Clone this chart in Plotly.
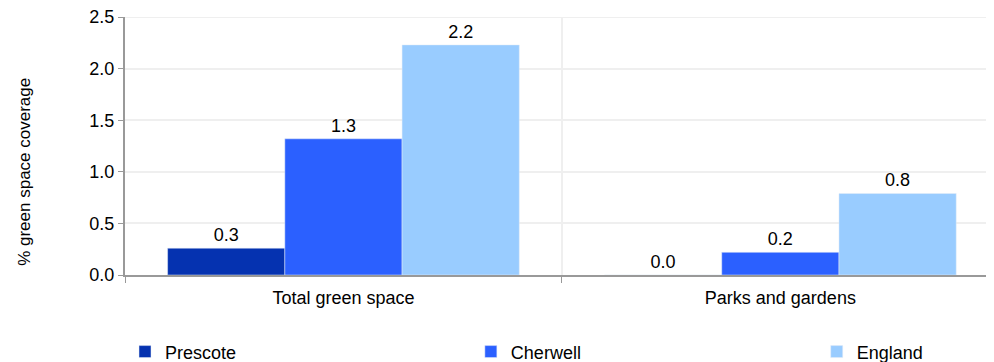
import plotly.graph_objects as go

categories = ["Total green space", "Parks and gardens"]
series_names = ["Prescote", "Cherwell", "England"]
prescote = [0.26, 0.0]
cherwell = [1.32, 0.22]
england = [2.23, 0.79]
colors = ["#0532B0", "#2B60FF", "#99CCFF"]
y_ticks = [0.0, 0.5, 1.0, 1.5, 2.0, 2.5]
y_title = "% green space coverage"

FONT = "Liberation Sans, Arial, sans-serif"
FS = 18

legend_names = ["legend", "legend2", "legend3"]
legend_x = [0.0, 0.398, 0.796]

fig = go.Figure()
for name, vals, col, lg in zip(series_names, [prescote, cherwell, england], colors, legend_names):
    fig.add_trace(go.Bar(
        x=categories, y=vals, name=name, marker_color=col,
        texttemplate="%{y:.1f}", textposition="outside",
        textfont=dict(color="#000000", size=FS, family=FONT),
        cliponaxis=False, legend=lg,
    ))

leg_common = dict(orientation="h", y=-0.298, yanchor="middle", xanchor="left",
                  font=dict(size=FS, family=FONT), bgcolor="rgba(0,0,0,0)")
# the page body adds an 8px offset, so the figure is sized to the visible area
fig.update_layout(
    width=986, height=354,
    margin=dict(l=117, r=0, t=9, b=87, autoexpand=False),
    paper_bgcolor="white", plot_bgcolor="white",
    barmode="group", bargap=0.195, bargroupgap=0,
    font=dict(family=FONT, size=FS, color="#000000"),
    showlegend=True,
    legend=dict(x=legend_x[0], **leg_common),
    legend2=dict(x=legend_x[1], **leg_common),
    legend3=dict(x=legend_x[2], **leg_common),
)
fig.add_annotation(
    text=y_title, textangle=-90, xref="paper", yref="paper",
    x=-0.115, y=0.40, xanchor="center", yanchor="middle", showarrow=False,
    font=dict(size=17, family=FONT, color="#000000"),
)
# top gridline (plotly omits the grid line on the plot edge)
fig.add_shape(type="line", xref="paper", x0=0, x1=1, yref="y", y0=y_ticks[-1], y1=y_ticks[-1],
              line=dict(color="#EFEFEF", width=2), layer="below")
fig.update_xaxes(
    range=[-0.5, 1.489], tickson="boundaries", ticks="outside", ticklen=6,
    tickcolor="#999999", showline=True, linecolor="#999999", linewidth=2,
    showgrid=True, gridcolor="#EFEFEF", gridwidth=2,
    tickfont=dict(size=FS), automargin=False, ticklabelstandoff=5,
)
fig.update_yaxes(
    range=[0, 2.5005], tickvals=y_ticks, ticktext=[f"{v:.1f}" for v in y_ticks],
    ticks="outside", ticklen=5, tickcolor="#999999",
    showline=True, linecolor="#999999", linewidth=2,
    showgrid=True, gridcolor="#EFEFEF", gridwidth=2, zeroline=False,
    tickfont=dict(size=FS), automargin=False, ticklabeloverflow="allow",
)

fig.write_html("out.html")
